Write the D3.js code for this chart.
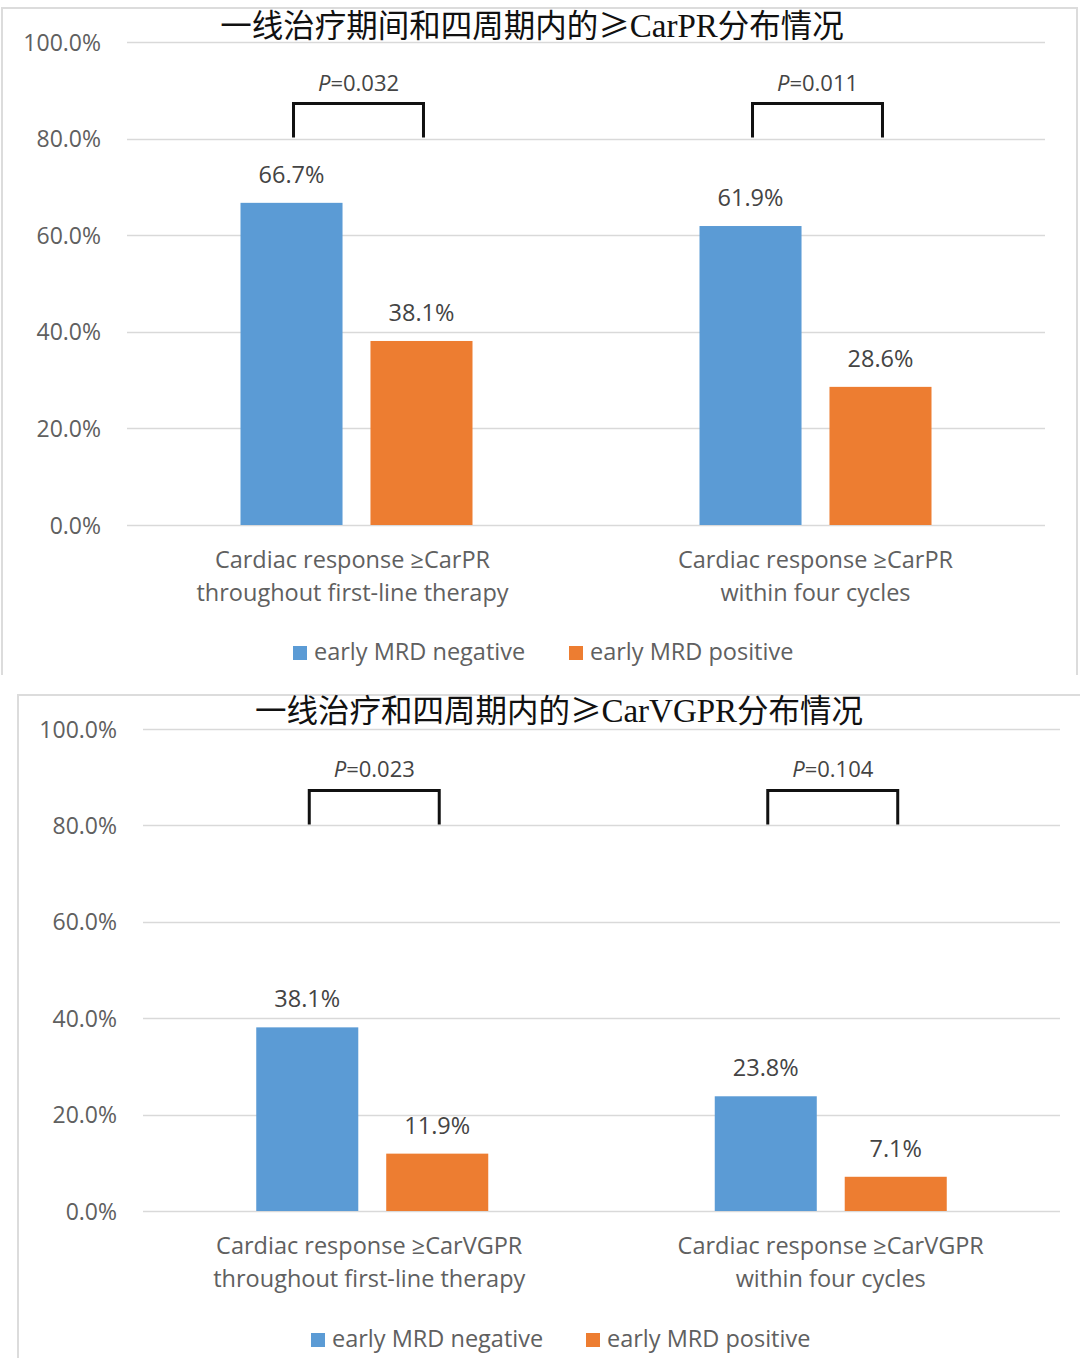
<!DOCTYPE html>
<html>
<head>
<meta charset="utf-8">
<script src="https://cdn.jsdelivr.net/npm/d3@7"></script>
<style>
  html, body { margin: 0; padding: 0; background: #fff; }
  svg { display: block; }
</style>
</head>
<body>
<svg id="chart" width="1080" height="1358"></svg>
<script>
// ---------------- DATA ----------------
const seriesNames = ["early MRD negative", "early MRD positive"];
const tickValues = [0, 20, 40, 60, 80, 100];

const title1 = "一线治疗期间和四周期内的≥CarPR分布情况";
const categories1 = [
  ["Cardiac response ≥CarPR", "throughout first-line therapy"],
  ["Cardiac response ≥CarPR", "within four cycles"]
];
const negative1 = [66.7, 61.9];
const positive1 = [38.1, 28.6];
const pValues1 = ["0.032", "0.011"];

const title2 = "一线治疗和四周期内的≥CarVGPR分布情况";
const categories2 = [
  ["Cardiac response ≥CarVGPR", "throughout first-line therapy"],
  ["Cardiac response ≥CarVGPR", "within four cycles"]
];
const negative2 = [38.1, 23.8];
const positive2 = [11.9, 7.1];
const pValues2 = ["0.023", "0.104"];

// ---------------- STYLE ----------------
const colors = ["#5B9BD5", "#ED7D31"];
const gridColor = "#D9D9D9";
const frameColor = "#DCDCDC";
const textColor = "#606060";
const sansFont = "'Open Sans', 'Noto Sans', sans-serif";
const latinSerif = "'Liberation Serif', serif";
const cjkFont = "'Noto Sans CJK SC', sans-serif";

const svg = d3.select("#chart");

function drawPanel(cfg) {
  const g = svg.append("g");
  const rows = cfg.categories.map((c, i) => ({
    key: "c" + i,
    label: c,
    values: [cfg.neg[i], cfg.pos[i]],
    p: cfg.p[i],
    shift: cfg.catShift[i]
  }));

  // frame
  const f = cfg.frame;
  g.append("path")
    .attr("d", `M${f.x0},${f.y1} V${f.y0} H${f.x1} V${f.y1}`)
    .attr("fill", "none").attr("stroke", frameColor).attr("stroke-width", 2);

  const y = d3.scaleLinear().domain([0, 100]).range([cfg.bottom, cfg.top]);
  const x0 = d3.scaleBand().domain(rows.map(r => r.key)).range([cfg.left, cfg.right]);
  const x1 = d3.scaleBand().domain(seriesNames).range([0, 232]).paddingInner(0.215);
  const groupStart = k => x0(k) + x0.bandwidth() / 2 - 116;

  // gridlines
  g.append("g").selectAll("line").data(tickValues).join("line")
    .attr("x1", cfg.left).attr("x2", cfg.right)
    .attr("y1", d => Math.round(y(d)) + 0.5).attr("y2", d => Math.round(y(d)) + 0.5)
    .attr("stroke", gridColor).attr("stroke-width", 1.5);

  // y axis labels
  const yAxis = d3.axisLeft(y).tickValues(tickValues)
    .tickFormat(d => d3.format(".1f")(d) + "%").tickSize(0).tickPadding(0);
  const ya = g.append("g").attr("transform", `translate(${cfg.tickRight},0)`).call(yAxis);
  ya.select(".domain").remove();
  ya.selectAll("text")
    .attr("font-family", sansFont).attr("font-size", 23)
    .attr("fill", textColor).attr("dy", "0.35em");

  // title: Latin runs in serif, the rest in CJK font
  const runs = cfg.title.match(/[A-Za-z]+|[^A-Za-z]+/g);
  g.append("text")
    .attr("x", cfg.titleX).attr("y", cfg.titleY)
    .attr("text-anchor", "middle")
    .attr("fill", "#111")
    .selectAll("tspan").data(runs).join("tspan")
    .attr("font-family", d => /[A-Za-z]/.test(d) ? latinSerif : cjkFont)
    .attr("font-size", d => /[A-Za-z]/.test(d) ? 33 : 31.5)
    .text(d => d);

  // bars
  const groups = g.append("g").selectAll("g").data(rows).join("g")
    .attr("transform", r => `translate(${groupStart(r.key)},0)`);
  groups.selectAll("rect").data(r => r.values.map((v, i) => ({ v, s: seriesNames[i], i })))
    .join("rect")
    .attr("x", d => x1(d.s)).attr("width", x1.bandwidth())
    .attr("y", d => y(d.v)).attr("height", d => y(0) - y(d.v))
    .attr("fill", d => colors[d.i]);
  groups.selectAll("text.val").data(r => r.values.map((v, i) => ({ v, s: seriesNames[i], i })))
    .join("text").attr("class", "val")
    .attr("x", d => x1(d.s) + x1.bandwidth() / 2)
    .attr("y", d => y(d.v) - 20)
    .attr("text-anchor", "middle")
    .attr("font-family", sansFont).attr("font-size", 23.5)
    .attr("fill", "#444")
    .text(d => d3.format(".1f")(d.v) + "%");

  // brackets and p-values
  groups.each(function (r) {
    const gg = d3.select(this);
    const xa = x1(seriesNames[0]) + x1.bandwidth() / 2 + 2;
    const xb = x1(seriesNames[1]) + x1.bandwidth() / 2 + 2;
    const yb = y(80) - 1, yt = y(80) - 35;
    gg.append("path")
      .attr("d", `M${xa},${yb} V${yt} H${xb} V${yb}`)
      .attr("fill", "none").attr("stroke", "#111").attr("stroke-width", 3);
    const t = gg.append("text")
      .attr("x", (xa + xb) / 2).attr("y", yt - 13)
      .attr("text-anchor", "middle")
      .attr("font-family", sansFont).attr("font-size", 22)
      .attr("fill", "#444");
    t.append("tspan").attr("font-style", "italic").text("P");
    t.append("tspan").text("=" + r.p);
  });

  // category labels
  const cats = g.append("g").selectAll("text").data(rows).join("text")
    .attr("x", r => x0(r.key) + x0.bandwidth() / 2 + r.shift)
    .attr("y", cfg.bottom + 43)
    .attr("text-anchor", "middle")
    .attr("font-family", sansFont).attr("font-size", 23.5)
    .attr("fill", textColor);
  cats.selectAll("tspan").data(r => r.label).join("tspan")
    .attr("x", function () { return d3.select(this.parentNode).attr("x"); })
    .attr("dy", (d, i) => i === 0 ? 0 : 33)
    .text(d => d);

  // legend
  const lg = g.append("g").selectAll("g").data(seriesNames).join("g")
    .attr("transform", (d, i) => `translate(${cfg.legendX[i]},${cfg.legendY})`);
  lg.append("rect").attr("x", 0).attr("y", -14).attr("width", 14).attr("height", 14)
    .attr("fill", (d, i) => colors[i]);
  lg.append("text").attr("x", 21).attr("y", 0)
    .attr("font-family", sansFont).attr("font-size", 23.5)
    .attr("fill", textColor).text(d => d);
}

drawPanel({
  title: title1, categories: categories1, neg: negative1, pos: positive1, p: pValues1,
  frame: { x0: 2, y0: 8, x1: 1077, y1: 675 },
  left: 127, right: 1045, top: 42, bottom: 525, tickRight: 101,
  titleX: 532, titleY: 37, catShift: [-4, 0],
  legendX: [293, 569], legendY: 660
});

drawPanel({
  title: title2, categories: categories2, neg: negative2, pos: positive2, p: pValues2,
  frame: { x0: 18, y0: 695, x1: 1090, y1: 1360 },
  left: 143, right: 1060, top: 729, bottom: 1211, tickRight: 117,
  titleX: 559, titleY: 722, catShift: [-3, 0],
  legendX: [311, 586], legendY: 1347
});
</script>
</body>
</html>
